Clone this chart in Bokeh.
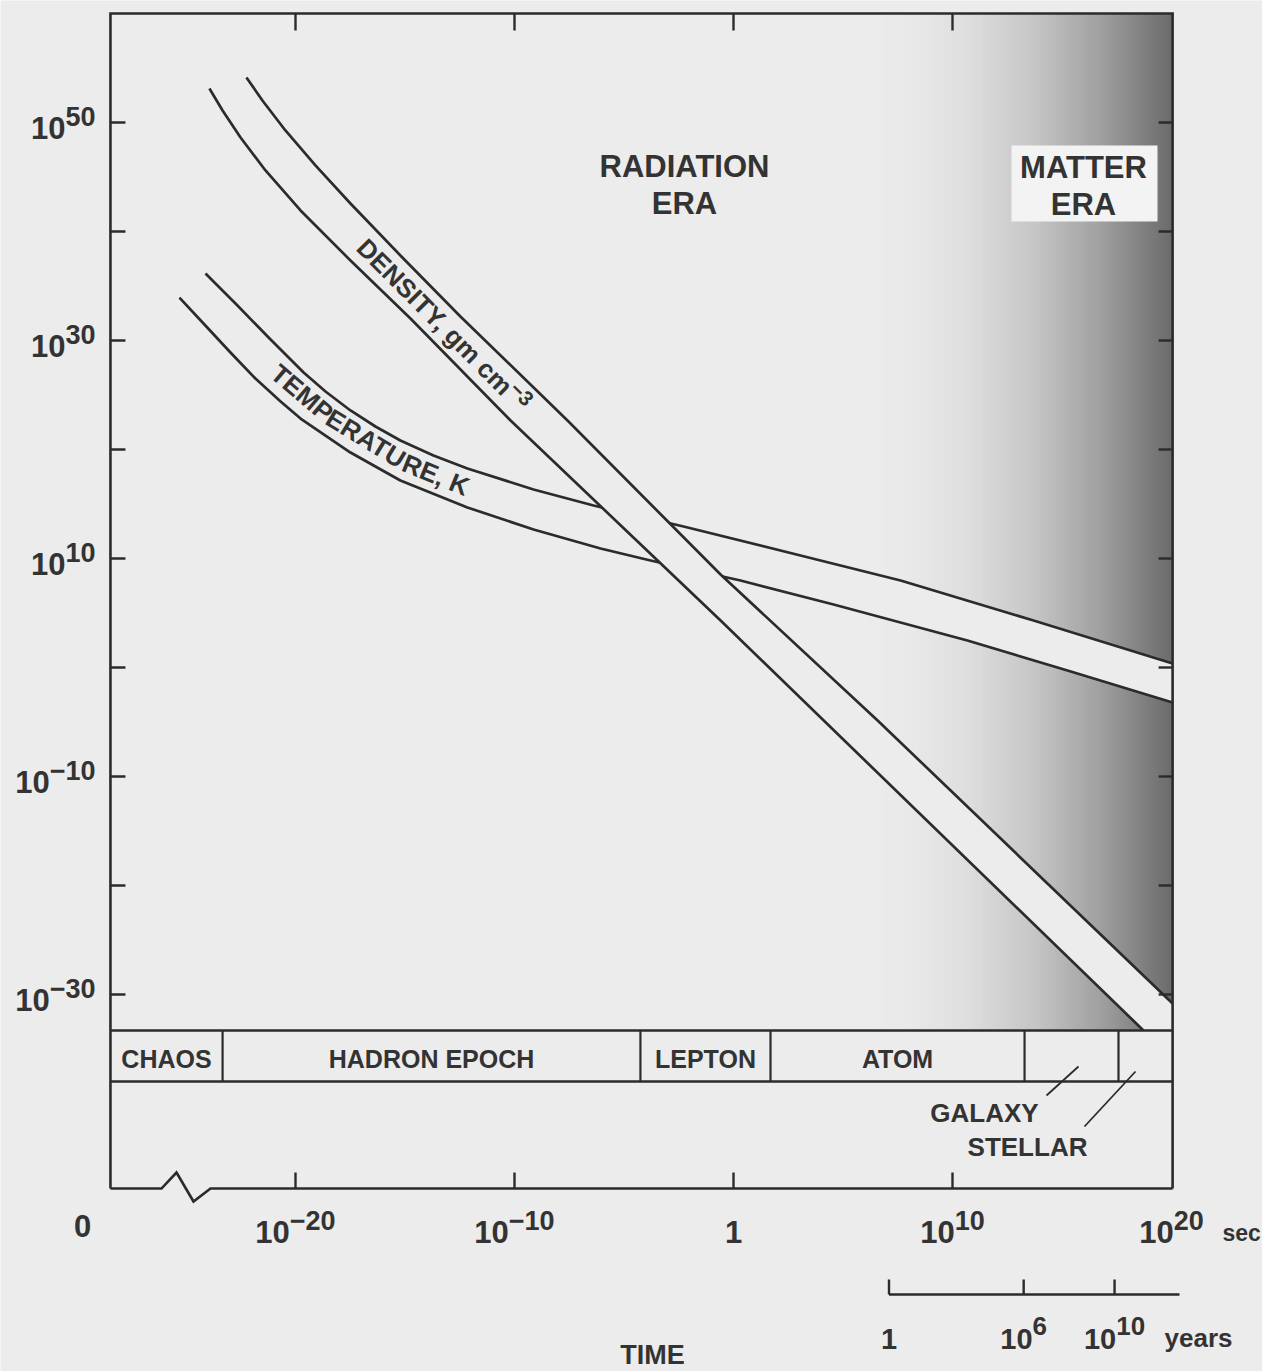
import math
import numpy as np
from bokeh.plotting import figure
from bokeh.models import Range1d
from bokeh.core.properties import value
from bokeh.embed import file_html
from bokeh.resources import INLINE

# ---------------- data (x = log10 time in s, y = log10 value) ----------------
y_tick_exp = [50, 40, 30, 20, 10, 0, -10, -20, -30]
y_label_exp = [50, 30, 10, -10, -30]
y_label_sup = ["50", "30", "10", "−10", "−30"]

x_tick_exp = [-20, -10, 0, 10]
x_label_pos = [-20, -10, 0, 10, 20]
x_label_base = ["10", "10", "1", "10", "10"]
x_label_sup = ["−20", "−10", "", "10", "20"]

year_tick_pos = [7.1, 13.25, 17.4]          # positions on the seconds scale
year_label_base = ["1", "10", "10"]
year_label_sup = ["", "6", "10"]

epoch_names = ["CHAOS", "HADRON EPOCH", "LEPTON", "ATOM", "", ""]
epoch_edges = [-28.45, -23.33, -4.25, 1.69, 13.29, 17.58, 20.05]

density_upper_t = [-22.24, -21.51, -20.46, -19.09, -17.49, -15.21, -12.47, -7.58, -0.59, 6.58, 20.05]
density_upper_v = [54.13, 52.02, 49.27, 46.06, 42.57, 37.80, 32.20, 22.66, 8.53, -4.86, -30.83]
density_lower_t = [-23.93, -23.33, -22.51, -21.37, -19.77, -17.49, -14.75, -10.18, -0.59, 18.72]
density_lower_v = [53.12, 51.10, 48.62, 45.60, 41.93, 37.34, 32.02, 22.66, 4.31, -33.30]

temp_upper_t = [-24.11, -22.65, -21.14, -19.63, -18.63, -17.49, -16.35, -15.21, -13.70, -12.15,
                -9.13, -6.39, -2.28, 3.06, 7.63, 13.70, 20.05]
temp_upper_v = [36.15, 33.21, 30.09, 27.06, 25.32, 23.58, 22.11, 20.83, 19.45, 18.26,
                16.33, 14.86, 12.94, 10.28, 7.98, 4.31, 0.37]
temp_lower_t = [-25.30, -24.20, -22.97, -21.83, -20.68, -19.77, -17.49, -15.21, -12.15, -9.13,
                -6.07, -3.79, 0.32, 4.57, 10.68, 15.25, 20.05]
temp_lower_v = [33.94, 31.56, 28.90, 26.51, 24.40, 22.84, 19.72, 17.16, 14.68, 12.66,
                10.92, 9.82, 7.98, 5.78, 2.48, -0.28, -3.21]

# ---------------- layout helpers (page px <-> data) ----------------
PXX, X0 = 21.9, 733.0   # px per decade (x), page px of t = 1 s
PXY, Y0 = 10.9, 667.0   # px per decade (y), page px of 10^0
W, H = 1262, 1371


def X(px):
    return (px - X0) / PXX


def Y(py):
    return (Y0 - py) / PXY


def DX(d):
    return d / PXX


def DY(d):
    return d / PXY


CW = {"T": .611, "E": .667, "M": .833, "P": .667, "R": .722, "A": .722, "U": .722,
      ",": .278, " ": .278, "K": .722, "D": .722, "N": .722, "S": .667, "I": .278,
      "Y": .667, "g": .611, "m": .889, "c": .556, "−": .584}


def tw(s, fs):
    w = 0.0
    for ch in s:
        w += 0.556 if ch.isdigit() else CW.get(ch, 0.6)
    return w * fs


X_MIN, X_MAX = -28.45, 20.05
Y_TOP, Y_BAND_TOP, Y_BAND_BOT, Y_BOTTOM = 60.0, -33.3, -37.98, -47.8

PAPER = "#ececec"
INK = "#2b2b2b"
TXT = "#333333"
FONT = value("Liberation Sans")

p = figure(width=W, height=H,
           x_range=Range1d(X(0), X(W)), y_range=Range1d(Y(H), Y(0)),
           min_border=0, x_axis_location=None, y_axis_location=None,
           toolbar_location=None, output_backend="svg",
           background_fill_color=PAPER, border_fill_color=PAPER,
           outline_line_color=None)
p.grid.grid_line_color = None
if p.title is not None:
    p.title.visible = False


def txt(xs, ys, texts, size, align="left", angle=0.0):
    # y positions are the vertical centres of the capitals / digits
    p.text(x=xs, y=ys, text=texts, angle=angle, text_font=FONT,
           text_font_size=f"{size}px", text_font_style="bold", text_color=TXT,
           text_align=align, text_baseline="middle")


# ---------------- matter-era shading ----------------
stops_px = [860, 910, 967, 1033, 1100, 1140, 1173]
stops_g = [236, 233, 222, 198, 160, 130, 106]
edges = np.arange(860, 1174, 2.0)
lefts, rights, cols = [], [], []
for a, b in zip(edges[:-1], edges[1:]):
    g = int(round(np.interp((a + b) / 2, stops_px, stops_g)))
    lefts.append(X(a))
    rights.append(min(X(b + 0.6), X_MAX))
    cols.append("#%02x%02x%02x" % (g, g, g))
p.quad(left=lefts, right=rights, top=Y_TOP, bottom=Y_BAND_TOP,
       fill_color=cols, line_color=None)

# MATTER ERA label box
p.quad(left=X(1011), right=X(1157), top=Y(145), bottom=Y(221),
       fill_color="#f3f3f3", line_color=None)

# ---------------- temperature ribbon ----------------
p.patch(temp_upper_t + temp_lower_t[::-1], temp_upper_v + temp_lower_v[::-1],
        fill_color=PAPER, line_color=None)
p.line(temp_upper_t, temp_upper_v, line_color=INK, line_width=2.7, line_join="round")
p.line(temp_lower_t, temp_lower_v, line_color=INK, line_width=2.7, line_join="round")

# ---------------- density ribbon ----------------
p.patch(density_upper_t + [X_MAX] + density_lower_t[::-1],
        density_upper_v + [Y_BAND_TOP] + density_lower_v[::-1],
        fill_color=PAPER, line_color=None)
p.line(density_upper_t, density_upper_v, line_color=INK, line_width=2.7, line_join="round")
p.line(density_lower_t, density_lower_v, line_color=INK, line_width=2.7, line_join="round")

# ---------------- frame ----------------
zz_x = [X_MIN, X(161), X(176), X(193), X(210), X_MAX]
zz_y = [Y_BOTTOM, Y_BOTTOM, Y_BOTTOM + DY(16), Y_BOTTOM - DY(13), Y_BOTTOM, Y_BOTTOM]
p.line(zz_x, zz_y, line_color=INK, line_width=2.6, line_join="miter")
p.line([X_MIN, X_MIN, X_MAX, X_MAX], [Y_BOTTOM, Y_TOP, Y_TOP, Y_BOTTOM],
       line_color=INK, line_width=2.6, line_join="miter")

# epoch band
p.segment(x0=[X_MIN, X_MIN], y0=[Y_BAND_TOP, Y_BAND_BOT], x1=[X_MAX, X_MAX],
          y1=[Y_BAND_TOP, Y_BAND_BOT], line_color=INK, line_width=2.4)
inner = epoch_edges[1:-1]
p.segment(x0=inner, y0=[Y_BAND_TOP] * len(inner), x1=inner, y1=[Y_BAND_BOT] * len(inner),
          line_color=INK, line_width=2.2)
mids, names = [], []
for i, nm in enumerate(epoch_names):
    if nm:
        mids.append((epoch_edges[i] + epoch_edges[i + 1]) / 2)
        names.append(nm)
txt(mids, [Y(1058)] * len(mids), names, 25, align="center")

# ticks (inward)
n = len(y_tick_exp)
p.segment(x0=[X_MIN] * n, y0=y_tick_exp, x1=[X_MIN + DX(15)] * n, y1=y_tick_exp,
          line_color=INK, line_width=2.4)
p.segment(x0=[X_MAX - DX(14)] * n, y0=y_tick_exp, x1=[X_MAX] * n, y1=y_tick_exp,
          line_color=INK, line_width=2.4)
m = len(x_tick_exp)
p.segment(x0=x_tick_exp, y0=[Y_TOP] * m, x1=x_tick_exp, y1=[Y_TOP - DY(17)] * m,
          line_color=INK, line_width=2.4)
p.segment(x0=x_tick_exp, y0=[Y_BOTTOM] * m, x1=x_tick_exp, y1=[Y_BOTTOM + DY(16)] * m,
          line_color=INK, line_width=2.4)

# ---------------- tick labels ----------------
BASE_FS, SUP_FS = 31, 27
for e, s in zip(y_label_exp, y_label_sup):
    jx = X(95 - tw(s, SUP_FS))
    yc = e - DY(5)
    txt([jx], [yc], ["10"], BASE_FS, align="right")
    txt([jx], [yc + DY(11)], [s], SUP_FS, align="left")

for pos, b, s in zip(x_label_pos, x_label_base, x_label_sup):
    yc = Y(1231)
    if s:
        total = tw(b, BASE_FS) + tw(s, SUP_FS)
        jx = pos + DX(tw(b, BASE_FS) - total / 2)
        txt([jx], [yc], [b], BASE_FS, align="right")
        txt([jx], [yc + DY(11)], [s], SUP_FS, align="left")
    else:
        txt([pos], [yc], [b], BASE_FS, align="center")

txt([X(82)], [Y(1225)], ["0"], BASE_FS, align="center")
txt([X(1222)], [Y(1232)], ["sec"], 23, align="left")

# years scale
p.line([year_tick_pos[0], X(1179)], [Y(1294), Y(1294)], line_color=INK, line_width=2.4)
k = len(year_tick_pos)
p.segment(x0=year_tick_pos, y0=[Y(1294)] * k, x1=year_tick_pos, y1=[Y(1279)] * k,
          line_color=INK, line_width=2.4)
YB_FS, YS_FS = 29, 26
for pos, b, s in zip(year_tick_pos, year_label_base, year_label_sup):
    yc = Y(1338)
    if s:
        total = tw(b, YB_FS) + tw(s, YS_FS)
        jx = pos + DX(tw(b, YB_FS) - total / 2)
        txt([jx], [yc], [b], YB_FS, align="right")
        txt([jx], [yc + DY(13)], [s], YS_FS, align="left")
    else:
        txt([pos], [yc], [b], YB_FS, align="center")
txt([X(1164)], [Y(1337)], ["years"], 26, align="left")
txt([X(652)], [Y(1354)], ["TIME"], 27, align="center")

# ---------------- era annotations ----------------
txt([X(684), X(684)], [Y(166), Y(203)], ["RADIATION", "ERA"], 31, align="center")
txt([X(1083), X(1083)], [Y(167), Y(204)], ["MATTER", "ERA"], 31, align="center")


# ---------------- ribbon labels following the ribbon mid-line ----------------
def to_px(ts, vs):
    return ([X0 + t * PXX for t in ts], [Y0 - v * PXY for v in vs])


def make_mid(ut, uv, lt, lv):
    ux, uy = to_px(ut, uv)
    lx, ly = to_px(lt, lv)
    return lambda xp: 0.5 * (np.interp(xp, ux, uy) + np.interp(xp, lx, ly))


def walk(mid, x0, dist):
    y0 = mid(x0)
    x1 = x0
    while math.hypot(x1 - x0, mid(x1) - y0) < dist:
        x1 += 0.25
    return x1, mid(x1)


def place_chunks(mid, x_start, chunks, fs, gap):
    x = x_start
    for c in chunks:
        w = tw(c, fs)
        y = mid(x)
        x1, y1 = walk(mid, x, w)
        ang = -math.atan2(y1 - y, x1 - x)
        txt([X(x)], [Y(y)], [c], fs, align="left", angle=ang)
        x, _ = walk(mid, x, w + gap)


temp_mid = make_mid(temp_upper_t, temp_upper_v, temp_lower_t, temp_lower_v)
place_chunks(temp_mid, 274, ["TEMP", "ERATU", "RE, K"], 26, -1.5)

dens_mid = make_mid(density_upper_t, density_upper_v, density_lower_t, density_lower_v)
d_main, d_sup, DFS = "DENSITY, gm cm", "−3", 26
dx0 = 361
dy0 = dens_mid(dx0)
dx1, dy1 = walk(dens_mid, dx0, tw(d_main, DFS))
d_ang = math.atan2(dy1 - dy0, dx1 - dx0)
along = tw(d_main, DFS) - 3
ex = dx0 + math.cos(d_ang) * along + math.sin(d_ang) * 7
ey = dy0 + math.sin(d_ang) * along - math.cos(d_ang) * 7
txt([X(dx0)], [Y(dy0)], [d_main], DFS, align="left", angle=-d_ang)
txt([X(ex)], [Y(ey)], [d_sup], 21, align="left", angle=-d_ang)

# ---------------- galaxy / stellar ----------------
txt([X(984), X(1027)], [Y(1112), Y(1146)], ["GALAXY", "STELLAR"], 26, align="center")
p.segment(x0=[X(1046), X(1084)], y0=[Y(1095), Y(1126)], x1=[X(1078), X(1135)],
          y1=[Y(1066), Y(1071)], line_color=INK, line_width=1.8)

open("out.html", "w").write(file_html(p, INLINE))
